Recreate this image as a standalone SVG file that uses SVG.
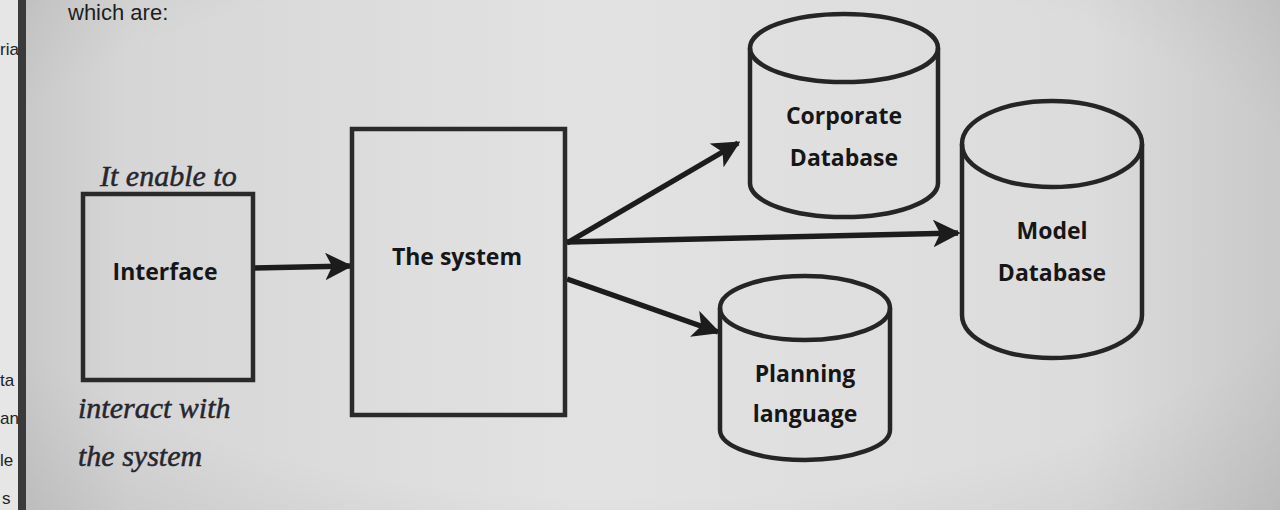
<svg xmlns="http://www.w3.org/2000/svg" width="1280" height="510" viewBox="0 0 1280 510">
<defs>
<linearGradient id="bg" x1="0" y1="0" x2="1" y2="0">
<stop offset="0" stop-color="#c6c6c6"/>
<stop offset="0.1" stop-color="#d6d6d6"/>
<stop offset="0.45" stop-color="#e2e2e2"/>
<stop offset="0.85" stop-color="#dcdcdc"/>
<stop offset="1" stop-color="#c9c9c9"/>
</linearGradient>
<radialGradient id="shade" cx="0.5" cy="0.45" r="0.75">
<stop offset="0.7" stop-color="#000" stop-opacity="0"/>
<stop offset="1" stop-color="#000" stop-opacity="0.07"/>
</radialGradient>
<marker id="ah" viewBox="0 0 10 10" refX="9" refY="5" markerWidth="5" markerHeight="5" orient="auto" markerUnits="strokeWidth">
<path d="M0,0 L10,5 L0,10 L2.5,5 Z" fill="#1c1c1c"/>
</marker>
</defs>
<style>
.box{fill:none;stroke:#2a2a2a;stroke-width:4.5}
.cyl{fill:none;stroke:#252525;stroke-width:4.5}
.lbl{font-family:"Open Sans","Liberation Sans",sans-serif;font-weight:700;font-size:23px;fill:#161616;text-anchor:middle}
.hand{font-family:"Liberation Serif",serif;font-style:italic;font-size:30px;fill:#26262e;stroke:#26262e;stroke-width:0.5}
.edge{font-family:"Liberation Sans",sans-serif;font-size:17px;fill:#222}
.conn{stroke:#1c1c1c;stroke-width:5.5;fill:none;marker-end:url(#ah)}
</style>
<rect width="1280" height="510" fill="url(#bg)"/>
<rect width="1280" height="510" fill="url(#shade)"/>
<rect x="0" y="0" width="22" height="510" fill="#e6e6e6"/>
<rect x="18" y="0" width="8" height="510" fill="#3a3a3a"/>
<text class="edge" x="0" y="55">ria</text>
<text class="edge" x="0" y="386">ta</text>
<text class="edge" x="0" y="424">an</text>
<text class="edge" x="0" y="466">le</text>
<text class="edge" x="2" y="504">s</text>
<text x="68" y="20" font-family="Liberation Sans, sans-serif" font-size="22" fill="#1e1e1e">which are:</text>

<g id="connectors">
<path class="conn" d="M253,268 L350,266"/>
<path class="conn" d="M567,243 L738,143"/>
<path class="conn" d="M567,242 L958,233"/>
<path class="conn" d="M567,279 L718,332"/>
</g>

<g id="interface">
<rect class="box" x="83" y="194" width="170" height="186"/>
<text class="lbl" x="165" y="280">Interface</text>
</g>

<g id="system">
<rect class="box" x="352" y="129" width="213" height="286"/>
<text class="lbl" x="457" y="265">The system</text>
</g>

<g id="corporate">
<path class="cyl" d="M750,48 L750,183 A94,34 0 0 0 938,183 L938,48"/>
<ellipse class="cyl" cx="844" cy="48" rx="94" ry="34"/>
<text class="lbl" x="844" y="124">Corporate</text>
<text class="lbl" x="844" y="166">Database</text>
</g>

<g id="model">
<path class="cyl" d="M962,144 L962,315 A90,43 0 0 0 1142,315 L1142,144"/>
<ellipse class="cyl" cx="1052" cy="144" rx="90" ry="43"/>
<text class="lbl" x="1052" y="239">Model</text>
<text class="lbl" x="1052" y="281">Database</text>
</g>

<g id="planning">
<path class="cyl" d="M720,308 L720,430 A85,30 0 0 0 890,430 L890,308"/>
<ellipse class="cyl" cx="805" cy="308" rx="85" ry="32"/>
<text class="lbl" x="805" y="382">Planning</text>
<text class="lbl" x="805" y="422">language</text>
</g>

<g id="notes">
<text class="hand" x="100" y="186">It enable to</text>
<text class="hand" x="78" y="418">interact with</text>
<text class="hand" x="78" y="466">the system</text>
</g>
</svg>
